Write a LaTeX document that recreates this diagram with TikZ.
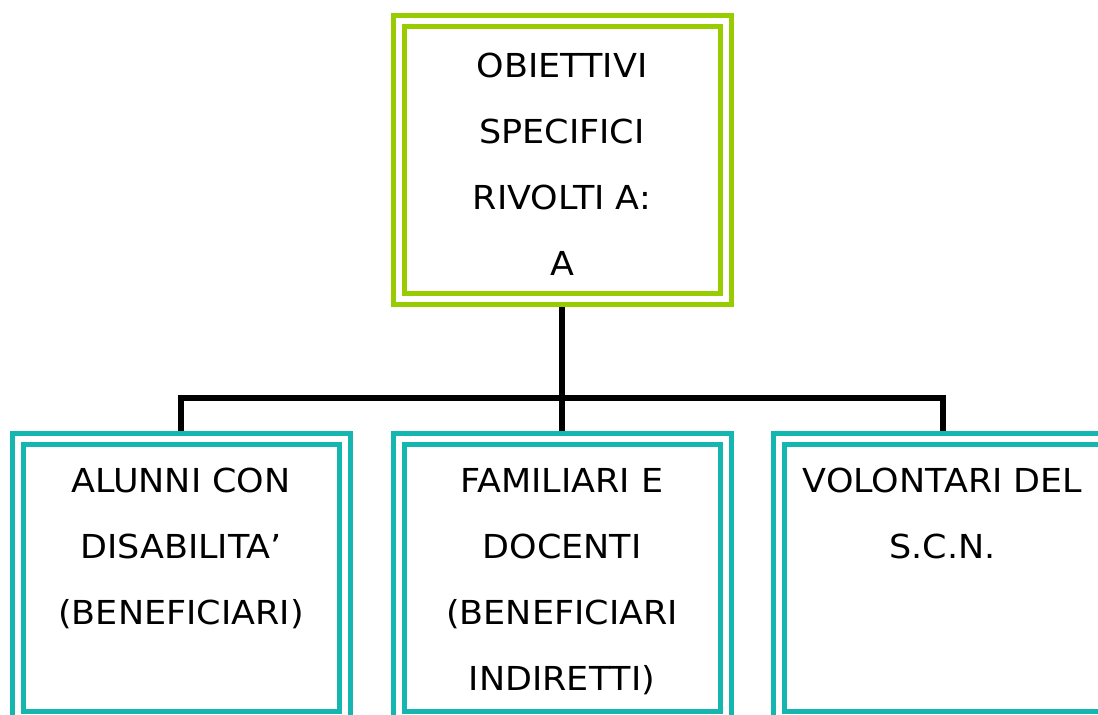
\documentclass[tikz,border=0pt]{standalone}
\usepackage{fontspec}
\setmainfont[FakeStretch=1.06]{DejaVu Sans}
\definecolor{objgreen}{RGB}{153,204,0}
\definecolor{tgtteal}{RGB}{20,182,175}
\tikzset{
  box/.style={rectangle, draw=#1, line width=5pt, double=white, double distance=6pt,
    minimum width=327pt, minimum height=278pt, inner sep=0pt, outer sep=8pt},
  txt/.style={anchor=north, inner sep=0pt, align=center, font=\fontsize{33}{66}\selectfont},
  link/.style={draw=black, line width=6pt}
}
\begin{document}
\begin{tikzpicture}[x=1pt,y=-1pt]
\clip (0,0) rectangle (1098,715);
\node[box=objgreen] (obj) at (562,160) {};
\node[box=tgtteal] (alu) at (181,577.5) {};
\node[box=tgtteal] (fam) at (562,577.5) {};
\node[box=tgtteal] (vol) at (942.5,577.5) {};
\node[txt] (objt) at (562,53) {OBIETTIVI\\SPECIFICI\\RIVOLTI A:\\A};
\node[txt] (alut) at (181,468) {ALUNNI CON\\DISABILITA’\\(BENEFICIARI)};
\node[txt] (famt) at (562,468) {FAMILIARI E\\DOCENTI\\(BENEFICIARI\\INDIRETTI)};
\node[txt] (volt) at (942.5,468) {VOLONTARI DEL\\S.C.N.};
\coordinate (bar) at (562,398);
\draw[link] (obj.south) -- (bar);
\draw[link] (alu.north) |- (bar) -| (vol.north);
\draw[link] (bar) -- (fam.north);
\end{tikzpicture}
\end{document}
